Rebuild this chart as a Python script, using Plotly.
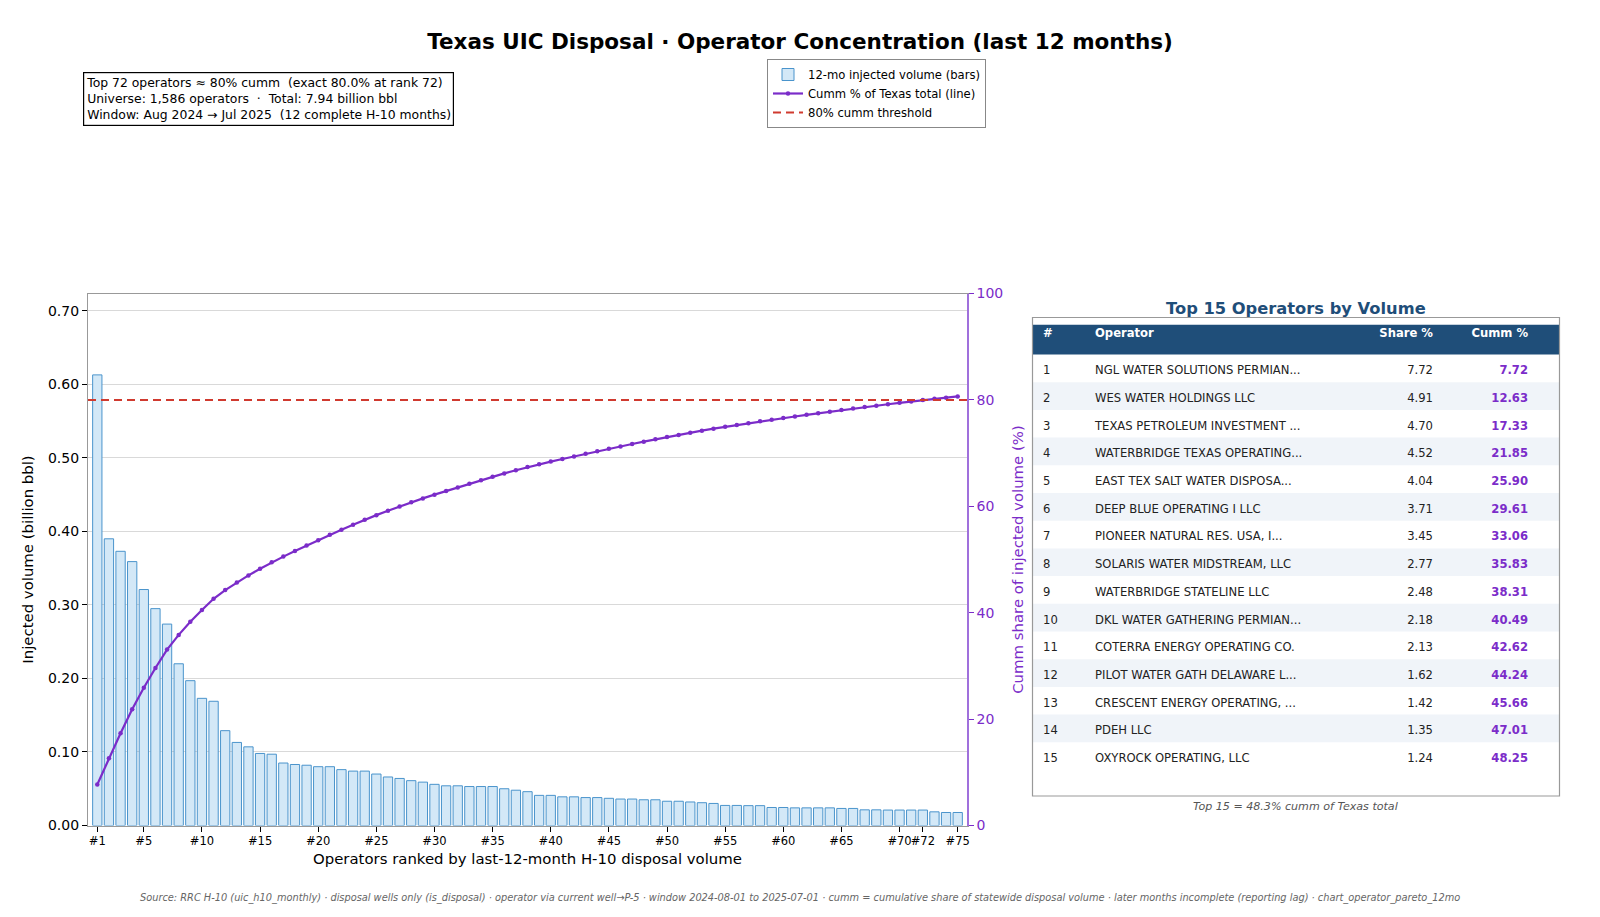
import plotly.graph_objects as go

# ---------------- data ----------------
TOTAL_BBL = 7.94  # billion bbl, statewide total
volumes = [
    0.613, 0.390, 0.373, 0.359, 0.321, 0.295, 0.274, 0.220, 0.197, 0.173,
    0.169, 0.129, 0.113, 0.107, 0.098, 0.097, 0.085, 0.083, 0.082, 0.080,
    0.080, 0.076, 0.074, 0.074, 0.070, 0.066, 0.064, 0.061, 0.059, 0.056,
    0.054, 0.054, 0.053, 0.053, 0.053, 0.050, 0.048, 0.046, 0.041, 0.041,
    0.039, 0.039, 0.038, 0.038, 0.037, 0.036, 0.036, 0.035, 0.035, 0.033,
    0.033, 0.032, 0.031, 0.030, 0.0273, 0.0273, 0.027, 0.027, 0.0245, 0.0245,
    0.024, 0.024, 0.024, 0.024, 0.0232, 0.0232, 0.0213, 0.0213, 0.021, 0.021,
    0.021, 0.021, 0.0186, 0.0177, 0.0177,
]
ranks = list(range(1, len(volumes) + 1))
THRESHOLD = 80
tick_ranks = [1, 5, 10, 15, 20, 25, 30, 35, 40, 45, 50, 55, 60, 65, 70, 72, 75]
tick_labels = ["#%d" % r for r in tick_ranks]

tbl_header = ["#", "Operator", "Share %", "Cumm %"]
tbl_rank = list(range(1, 16))
tbl_operator = [
    "NGL WATER SOLUTIONS PERMIAN...", "WES WATER HOLDINGS LLC",
    "TEXAS PETROLEUM INVESTMENT ...", "WATERBRIDGE TEXAS OPERATING...",
    "EAST TEX SALT WATER DISPOSA...", "DEEP BLUE OPERATING I LLC",
    "PIONEER NATURAL RES. USA, I...", "SOLARIS WATER MIDSTREAM, LLC",
    "WATERBRIDGE STATELINE LLC", "DKL WATER GATHERING PERMIAN...",
    "COTERRA ENERGY OPERATING CO.", "PILOT WATER GATH DELAWARE L...",
    "CRESCENT ENERGY OPERATING, ...", "PDEH LLC", "OXYROCK OPERATING, LLC",
]
tbl_share = [7.72, 4.91, 4.70, 4.52, 4.04, 3.71, 3.45, 2.77, 2.48, 2.18,
             2.13, 1.62, 1.42, 1.35, 1.24]
tbl_cumm = [7.72, 12.63, 17.33, 21.85, 25.90, 29.61, 33.06, 35.83, 38.31, 40.49,
            42.62, 44.24, 45.66, 47.01, 48.25]

# cumulative share of Texas total
cumm = []
run = 0.0
for v in volumes:
    run += v
    cumm.append(run / TOTAL_BBL * 100)

# ---------------- style ----------------
W, H = 1600, 917
FONT = "DejaVu Sans"
PURPLE = "#7b2cc9"
RED = "#d03a2f"
NAVY = "#1f4e79"
STRIPE = "#f0f4f9"
XR = [0.2, 75.8]

def px_x(p):
    return p / W

def px_y(p):
    return 1 - p / H

fig = go.Figure()

fig.add_trace(go.Bar(
    x=ranks, y=volumes, width=0.8,
    marker=dict(color="#d3e8f7", line=dict(color="#4a94cc", width=1)),
    name="12-mo injected volume (bars)", xaxis="x", yaxis="y",
))
fig.add_trace(go.Scatter(
    x=ranks, y=cumm, mode="lines+markers", xaxis="x", yaxis="y2",
    line=dict(color=PURPLE, width=2.2), marker=dict(color=PURPLE, size=4.5),
    name="Cumm % of Texas total (line)",
))
fig.add_trace(go.Scatter(
    x=XR, y=[THRESHOLD, THRESHOLD], mode="lines", xaxis="x", yaxis="y2",
    line=dict(color=RED, width=2, dash="8px,5px"),
    name="80% cumm threshold",
))

# ---------------- table (own hidden axes: x in px units, y in row units) ----------------
TBL_LEFT, TBL_RIGHT = 1033, 1559          # page px
TBL_TOP, TBL_BOTTOM = 324.5, 796          # page px (header top, box bottom)
ROW_H = 27.7                              # px per row
HDR_H = 30                                # header band px
tbl_w = TBL_RIGHT - TBL_LEFT
y_top = 0.5 - HDR_H / ROW_H               # header top in row units
y_bot = y_top + (TBL_BOTTOM - TBL_TOP) / ROW_H
TXT_DY = 3.0 / ROW_H                      # baseline nudge for text
col_anchor = [10, 62, 400, 495]           # text anchors within table (px)
col_pos = ["middle right", "middle right", "middle left", "middle left"]

stripe_rows = [r for r in tbl_rank if r % 2 == 0]
fig.add_trace(go.Bar(
    y=stripe_rows, x=[tbl_w] * len(stripe_rows), base=0, orientation="h", width=1,
    marker=dict(color=STRIPE, line=dict(width=0)),
    xaxis="x3", yaxis="y3", showlegend=False, hoverinfo="skip",
))
cell_cols = [
    ([str(r) for r in tbl_rank], "#222", "normal"),
    (tbl_operator, "#222", "normal"),
    (["%.2f" % s for s in tbl_share], "#222", "normal"),
    (["%.2f" % c for c in tbl_cumm], PURPLE, "bold"),
]
for (vals, col, wt), xa, pos in zip(cell_cols, col_anchor, col_pos):
    fig.add_trace(go.Scatter(
        x=[xa] * len(vals), y=[r + TXT_DY for r in tbl_rank], text=vals,
        mode="text", textposition=pos,
        textfont=dict(family=FONT, size=11.6, color=col, weight=wt),
        xaxis="x3", yaxis="y3", showlegend=False, hoverinfo="skip",
    ))
hdr_y = y_top + 10 / ROW_H
fig.add_trace(go.Scatter(
    x=col_anchor, y=[hdr_y] * len(tbl_header), text=tbl_header, mode="text",
    textposition=col_pos,
    textfont=dict(family=FONT, size=11.6, color="white", weight="bold"),
    xaxis="x3", yaxis="y3", showlegend=False, hoverinfo="skip",
))

fig.update_layout(
    width=W, height=H,
    margin=dict(l=0, r=0, t=0, b=0),
    paper_bgcolor="white", plot_bgcolor="white",
    font=dict(family=FONT, color="black"),
    title=dict(
        text="<b>Texas UIC Disposal · Operator Concentration (last 12 months)</b>",
        x=0.5, xanchor="center", y=px_y(41), yanchor="middle",
        font=dict(size=21.5, family=FONT, color="black"),
    ),
    bargap=0.2,
    showlegend=True,
    legend=dict(
        x=px_x(767), y=px_y(59), xanchor="left", yanchor="top",
        bordercolor="#888", borderwidth=1, bgcolor="white",
        font=dict(size=11.6, family=FONT), tracegroupgap=0,
        itemwidth=30,
    ),
    xaxis=dict(
        domain=[px_x(88), px_x(967)], range=XR,
        tickvals=tick_ranks, ticktext=tick_labels, tickangle=0,
        tickfont=dict(size=11.5), ticks="outside", ticklen=5, tickcolor="black",
        showgrid=False, showline=True, linecolor="#999", linewidth=1.2, mirror=True,
        zeroline=False,
        title=dict(text="Operators ranked by last-12-month H-10 disposal volume",
                   font=dict(size=14.9), standoff=6),
        automargin=False,
    ),
    yaxis=dict(
        domain=[px_y(825.5), px_y(293.5)], range=[0, 0.7237],
        tickvals=[0, 0.1, 0.2, 0.3, 0.4, 0.5, 0.6, 0.7], tickformat=".2f",
        tickfont=dict(size=14), ticks="outside", ticklen=5, tickcolor="black",
        showgrid=True, gridcolor="#d9d9d9", gridwidth=1,
        showline=True, linecolor="#999", linewidth=1.2, zeroline=False,
        title=dict(text="Injected volume (billion bbl)", font=dict(size=14.9), standoff=10),
        automargin=False,
    ),
    yaxis2=dict(
        overlaying="y", side="right", anchor="x", range=[0, 100],
        tickvals=[0, 20, 40, 60, 80, 100],
        tickfont=dict(size=14, color=PURPLE), ticks="outside", ticklen=5, tickcolor=PURPLE,
        showgrid=False, showline=True, linecolor="#a070dc", linewidth=1.5, zeroline=False,
        title=dict(text="Cumm share of injected volume (%)",
                   font=dict(size=14.9, color=PURPLE), standoff=10),
        automargin=False,
    ),
    xaxis3=dict(
        domain=[px_x(TBL_LEFT), px_x(TBL_RIGHT)], range=[0, tbl_w], anchor="y3",
        visible=False, fixedrange=True,
    ),
    yaxis3=dict(
        domain=[px_y(TBL_BOTTOM), px_y(TBL_TOP)], range=[y_bot, y_top], anchor="x3",
        visible=False, fixedrange=True,
    ),
    shapes=[
        dict(type="rect", xref="x3", yref="y3", x0=0, x1=tbl_w, y0=y_top, y1=0.5,
             fillcolor=NAVY, line=dict(width=0), layer="below"),
        dict(type="rect", xref="paper", yref="paper",
             x0=px_x(1032.5), x1=px_x(1559.5), y0=px_y(796), y1=px_y(317.5),
             line=dict(color="#999", width=1.2), fillcolor="rgba(0,0,0,0)", layer="above"),
    ],
    annotations=[
        dict(
            text=("Top 72 operators ≈ 80% cumm  (exact 80.0% at rank 72)<br>"
                  "Universe: 1,586 operators  ·  Total: 7.94 billion bbl<br>"
                  "Window: Aug 2024 → Jul 2025  (12 complete H-10 months)"),
            xref="paper", yref="paper", x=px_x(83), y=px_y(71.5),
            xanchor="left", yanchor="top", align="left", showarrow=False,
            font=dict(size=12.4, family=FONT, color="black"),
            bordercolor="black", borderwidth=1.2, borderpad=2, bgcolor="white",
        ),
        dict(
            text="<b>Top 15 Operators by Volume</b>",
            xref="paper", yref="paper", x=px_x(1296), y=px_y(308),
            xanchor="center", yanchor="middle", showarrow=False,
            font=dict(size=16.3, family=FONT, color=NAVY),
        ),
        dict(
            text="<i>Top 15 = 48.3% cumm of Texas total</i>",
            xref="paper", yref="paper", x=px_x(1296), y=px_y(806),
            xanchor="center", yanchor="middle", showarrow=False,
            font=dict(size=11.1, family=FONT, color="#555"),
        ),
        dict(
            text=("<i>Source: RRC H-10 (uic_h10_monthly) · disposal wells only (is_disposal) · "
                  "operator via current well→P-5 · window 2024-08-01 to 2025-07-01 · "
                  "cumm = cumulative share of statewide disposal volume · later months incomplete "
                  "(reporting lag) · chart_operator_pareto_12mo</i>"),
            xref="paper", yref="paper", x=0.5, y=px_y(898),
            xanchor="center", yanchor="middle", showarrow=False,
            font=dict(size=9.8, family=FONT, color="#666"),
        ),
    ],
)

fig.write_html("out.html")
